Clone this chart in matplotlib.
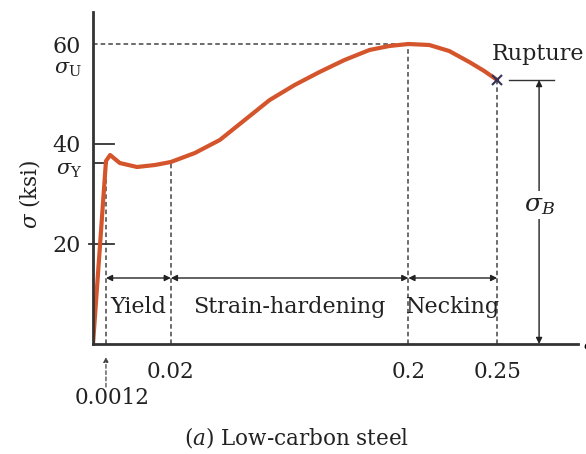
import numpy as np
import matplotlib
matplotlib.use("Agg")
import matplotlib.pyplot as plt

plt.rcParams['font.family'] = ['DejaVu Serif']
plt.rcParams['mathtext.fontset'] = 'dejavuserif'

# stress-strain curve of low-carbon steel (strain, stress in ksi)
strain = [0.0, 0.0012, 0.0024, 0.0052, 0.0102, 0.0154, 0.02, 0.0382, 0.0571, 0.0760,
          0.0949, 0.1138, 0.1327, 0.1516, 0.1705, 0.1856, 0.2, 0.2118, 0.223,
          0.2343, 0.2427, 0.25]
stress = [0.0, 36.6, 37.8, 36.2, 35.4, 35.8, 36.4, 38.2, 40.8, 44.8,
          48.8, 51.8, 54.4, 56.8, 58.8, 59.6, 60.0, 59.8, 58.6,
          56.4, 54.6, 52.8]

# key points
eps_marks = [0.0012, 0.02, 0.2, 0.25]
eps_labels = ["0.02", "0.2", "0.25"]
sig_ticks = [20, 40, 60]
sig_y = 36.2
sig_u = 60.0
sig_b = 52.8
regions = ["Yield", "Strain-hardening", "Necking"]

# schematic (non linear) strain axis
brk_e = np.array([-0.1, 0.0, 0.0012, 0.02, 0.2, 0.25, 1.0])
brk_p = np.array([-1083.0, 0.0, 13.0, 78.0, 316.0, 405.0, 1740.0])
def fwd(x):
    return np.interp(x, brk_e, brk_p)
def inv(p):
    return np.interp(p, brk_p, brk_e)

fig = plt.figure(figsize=(5.86, 4.54), dpi=100)
ax = fig.add_axes([93/586, 110/454, 485/586, 332/454])
ax.set_xscale('function', functions=(fwd, inv))
ax.set_xlim(0, 0.2955)
ax.set_ylim(0, 66.4)

for s in ['top', 'right']:
    ax.spines[s].set_visible(False)
for s in ['left', 'bottom']:
    ax.spines[s].set_color('#333333')
    ax.spines[s].set_linewidth(2)

ax.set_xticks(eps_marks[1:])
ax.set_xticklabels(eps_labels, fontsize=15.5, color='#222222')
ax.set_yticks(sig_ticks)
ax.set_yticklabels([str(v) for v in sig_ticks], fontsize=16, color='#222222')
ax.tick_params(axis='x', length=0, pad=12)
ax.tick_params(axis='y', length=0, pad=9)
ax.set_ylabel(r"$\sigma$ (ksi)", fontsize=15.5, color='#222222')
ax.yaxis.set_label_coords(-0.105, 0.45)

dash = dict(color='#444444', lw=1.1, ls=(0, (3, 2)))
# reference lines
ax.plot([0, 0.2], [sig_u, sig_u], **dash)
ax.plot([0.2, 0.2], [0, sig_u], **dash)
ax.plot([0.25, 0.25], [0, sig_b], **dash)
ax.plot([0.02, 0.02], [0, 36.4], **dash)
ax.plot([0.0012, 0.0012], [0, sig_y], **dash)
ax.plot([0, 0.0035], [40, 40], color='#333333', lw=1.3)
ax.plot([-0.0004, 0.0035], [20, 20], color='#333333', lw=1.3, clip_on=False)
ax.plot([0, 0.0015], [sig_y, sig_y], color='#333333', lw=1.3)
ax.plot([0.2567, 0.282], [sig_b, sig_b], color='#333333', lw=1)

# curve
ax.plot(strain, stress, color='#d4552b', lw=3, solid_capstyle='round')
ax.plot([0.25], [sig_b], marker='x', color='#333355', ms=7, mew=1.5)

ax.text(-0.001, 55.0, r"$\sigma_{\rm U}$", fontsize=15, ha='right', va='center',
        color='#222222')
ax.text(-0.001, 34.8, r"$\sigma_{\rm Y}$", fontsize=15, ha='right', va='center',
        color='#222222')

# region arrows
arr = dict(arrowstyle='<|-|>', color='#222222', lw=1, mutation_scale=9,
           shrinkA=0, shrinkB=0)
yarr = 13.2
bounds = [0.0012, 0.02, 0.2, 0.25]
for i, name in enumerate(regions):
    ax.annotate("", xy=(bounds[i], yarr), xytext=(bounds[i + 1], yarr), arrowprops=arr)
    xm = inv((fwd(bounds[i]) + fwd(bounds[i + 1])) / 2)
    ax.text(xm, 7.4, name, fontsize=16, ha='center', va='center', color='#222222')

# sigma_B arrow
ax.annotate("", xy=(0.2736, 0), xytext=(0.2736, sig_b), arrowprops=arr)
ax.text(0.2736, 27.8, r"$\sigma_B$", fontsize=18, ha='center', va='center',
        color='#222222', bbox=dict(fc='white', ec='none', pad=2))
ax.text(0.2472, 58.0, "Rupture", fontsize=16, ha='left', va='center', color='#222222',
        clip_on=False)

# 0.0012 label below axis
ax.annotate("", xy=(0.0012, -2.6), xytext=(0.0012, -8.6), annotation_clip=False,
            arrowprops=dict(arrowstyle='-|>', color='#444444', lw=0.9, ls=(0, (3, 2)),
                            mutation_scale=7, shrinkA=0, shrinkB=0))
ax.text(0.003, -10.8, "0.0012", fontsize=15.5, ha='center', va='center', color='#222222',
        clip_on=False)
ax.text(0.2985, 0, r"$\epsilon$", fontsize=18, ha='left', va='center', clip_on=False)

fig.text(297/586, 1 - 437/454, r"($a$) Low-carbon steel", fontsize=15.5, ha='center',
         va='center', color='#222222')

fig.savefig("out.png", dpi=100)
